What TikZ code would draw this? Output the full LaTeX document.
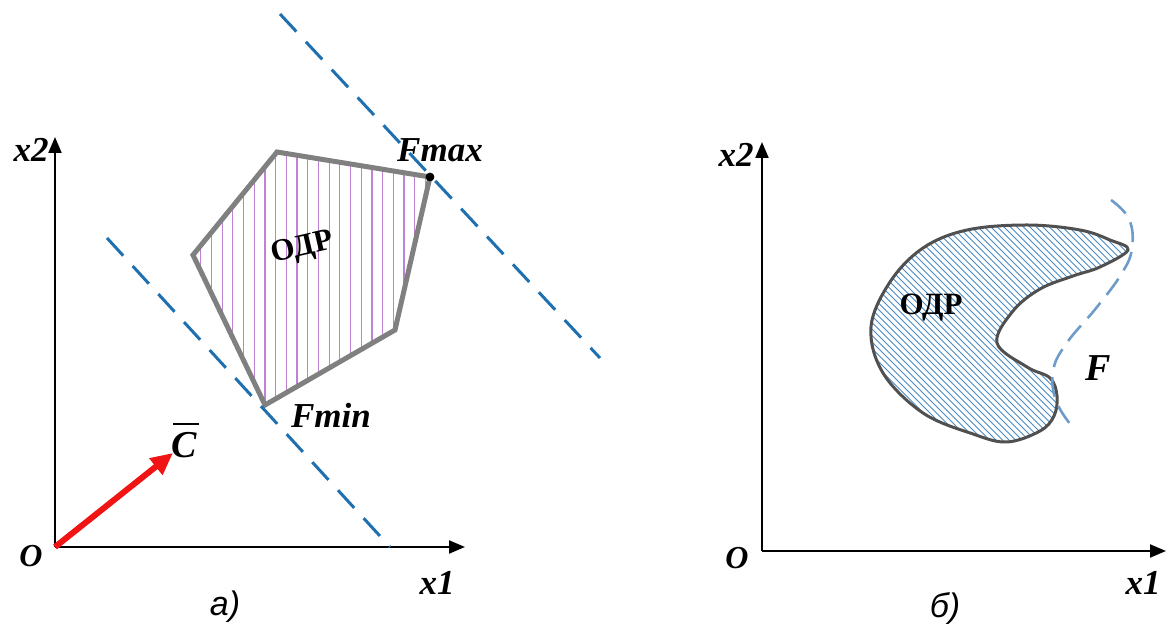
\documentclass[tikz,border=0pt]{standalone}
\usepackage{fontspec}
\setmainfont{Liberation Serif}
\setsansfont{Liberation Sans}
\usetikzlibrary{arrows.meta,positioning,calc}

\definecolor{polyhatch}{RGB}{190,130,210}
\definecolor{polyedge}{RGB}{128,128,128}
\definecolor{lineblue}{RGB}{30,112,176}
\definecolor{lightblue}{RGB}{110,156,202}
\definecolor{blobhatch}{RGB}{74,138,196}
\definecolor{blobedge}{RGB}{80,80,80}
\definecolor{vecred}{RGB}{240,20,20}

\begin{document}
\begin{tikzpicture}[x=0.5pt, y=-0.5pt]
    \tikzset{
        axis/.style={draw=black, line width=1.1pt, -{Triangle[length=8pt, width=6.5pt]}},
        lbl/.style={font=\fontsize{17.5}{20}\selectfont\bfseries\itshape, inner sep=0pt},
        region/.style={font=\fontsize{15.5}{18}\selectfont\bfseries, inner sep=0pt},
        sublabel/.style={font=\fontsize{17}{19}\selectfont\sffamily\itshape, inner sep=0pt},
        levelline/.style={draw=lineblue, line width=1.5pt, dash pattern=on 12pt off 7pt},
        fcurve/.style={draw=lightblue, line width=1.3pt, dash pattern=on 10pt off 5pt},
        vector/.style={draw=vecred, line width=3pt, -{Triangle[length=11pt, width=10pt]}}
    }
    \useasboundingbox (0,0) rectangle (1169,624);

    % Panel a) - axes
    \coordinate (oa) at (55,547);
    \coordinate (x2a) at (55,137);
    \coordinate (x1a) at (465,547);
    \draw[axis] (oa) -- (x2a);
    \draw[axis] (oa) -- (x1a);
    \node[lbl] (x2alab) at (31,150) {x2};
    \node[lbl] (x1alab) at (437,583) {x1};
    \node[lbl, font=\fontsize{16}{18}\selectfont\bfseries\itshape] (oalab) at (31,556) {O};
    \node[sublabel] (capa) at (225,607) {а)};

    % Feasible polygon
    \coordinate (pt) at (277,152);
    \coordinate (fmax) at (430,177);
    \coordinate (pr) at (395,330);
    \coordinate (fmin) at (265,405);
    \coordinate (pl) at (193,255);
    \begin{scope}
        \clip (pt) -- (fmax) -- (pr) -- (fmin) -- (pl) -- cycle;
        \foreach \x in {0,...,24}
            \draw[polyhatch, line width=0.6pt] (190+10.7*\x,140) -- (190+10.7*\x,420);
    \end{scope}
    \draw[polyedge, line width=2.5pt, line join=miter] (pt) -- (fmax) -- (pr) -- (fmin) -- (pl) -- cycle;
    \node[region, rotate=13] (odra) at (303,249) {ОДР};

    % Level lines
    \coordinate (ua) at (280,14);
    \coordinate (ub) at (600,358);
    \coordinate (la) at (107,238);
    \coordinate (lb) at (390,547);
    \draw[levelline] (ua) -- (ub);
    \draw[levelline] (la) -- (lb);
    \fill (fmax) circle (2.2pt);
    \node[lbl] (fmaxlab) at (440,150) {Fmax};
    \node[lbl] (fminlab) at (331,415) {Fmin};

    % Gradient vector
    \coordinate (ctip) at (173,453);
    \draw[vector] (oa) -- (ctip);
    \node[lbl, font=\fontsize{19}{21}\selectfont\bfseries\itshape] (clab) at (184,445) {C};
    \draw[line width=0.6pt] (173,424) -- (199,424);

    % Panel b) - axes
    \coordinate (ob) at (762,551);
    \coordinate (x2b) at (762,142);
    \coordinate (x1b) at (1166,551);
    \draw[axis] (ob) -- (x2b);
    \draw[axis] (ob) -- (x1b);
    \node[lbl] (x2blab) at (736,155) {x2};
    \node[lbl] (x1blab) at (1143,583) {x1};
    \node[lbl, font=\fontsize{16}{18}\selectfont\bfseries\itshape] (oblab) at (737,558) {O};
    \node[sublabel] (capb) at (945,609) {б)};

    % Non-convex region
    \def\blobpath{plot[smooth cycle, tension=0.6] coordinates {
        (1128,250) (1100,267) (1073,276) (1040,289) (1013,311) (997,343)
        (1027,367) (1050,378) (1057,396) (1054,416) (1040,431) (1007,442)
        (973,434) (923,413) (883,373) (871,327) (890,282) (923,248)
        (967,230) (1027,225) (1080,230) (1110,240)}}
    \begin{scope}
        \clip \blobpath;
        \foreach \x in {0,...,90}
            \draw[blobhatch, line width=0.45pt] (600+6.5*\x,200) -- (860+6.5*\x,460);
    \end{scope}
    \draw[blobedge, line width=1.5pt] \blobpath;
    \node[region] (odrb) at (931,308) {ОДР};

    % Objective level curve
    \draw[fcurve] plot[smooth, tension=0.7] coordinates {
        (1111,200) (1129,219) (1132,248) (1122,273) (1097,307)
        (1066,344) (1053,372) (1057,403) (1075,430)};
    \node[lbl, font=\fontsize{19}{21}\selectfont\bfseries\itshape] (flab) at (1098,368) {F};
\end{tikzpicture}
\end{document}
